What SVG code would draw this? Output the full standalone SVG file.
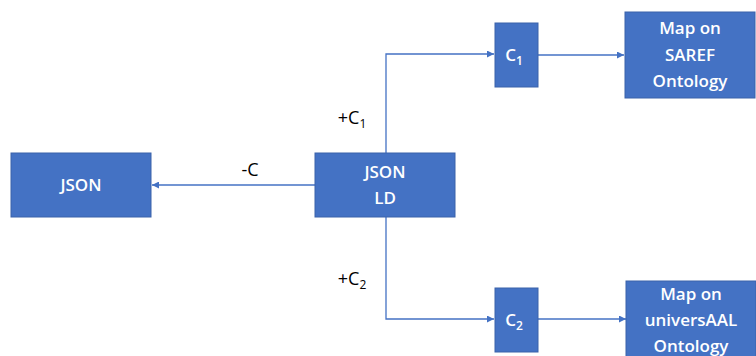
<svg xmlns="http://www.w3.org/2000/svg" width="756" height="356" viewBox="0 0 756 356">
<style>
.box{fill:#4472C4;stroke:#3A62AA;stroke-width:1}
.t{font-family:"Open Sans","Liberation Sans",sans-serif;font-size:17px;font-weight:600;fill:#fff;text-anchor:middle}
.lbl{font-family:"Open Sans","Liberation Sans",sans-serif;font-size:18px;font-weight:500;fill:#000;text-anchor:middle}
.sub{font-size:12px}
.c{fill:none;stroke:#4472C4;stroke-width:1.3}
</style>
<defs>
<marker id="ah" viewBox="0 0 10 10" refX="10" refY="5" markerWidth="7" markerHeight="7" markerUnits="userSpaceOnUse" orient="auto">
<path d="M0,0 L10,5 L0,10 z" fill="#4472C4"/>
</marker>
</defs>
<rect width="756" height="356" fill="#fff"/>
<g id="connectors">
<path class="c" d="M315,185 H152" marker-end="url(#ah)"/>
<path class="c" d="M386,153 V54 H494" marker-end="url(#ah)"/>
<path class="c" d="M538,55 H624" marker-end="url(#ah)"/>
<path class="c" d="M386,217 V319 H494" marker-end="url(#ah)"/>
<path class="c" d="M538,319 H626" marker-end="url(#ah)"/>
<text class="lbl" x="250" y="176">-C</text>
<text class="lbl" x="352" y="124">+C<tspan class="sub" dy="4">1</tspan></text>
<text class="lbl" x="352" y="285">+C<tspan class="sub" dy="4">2</tspan></text>
</g>
<g id="json">
<rect class="box" x="11" y="153" width="140" height="64"/>
<text class="t" x="81" y="191">JSON</text>
</g>
<g id="jsonld">
<rect class="box" x="315" y="153" width="140" height="64"/>
<text class="t" x="385" y="178">JSON</text>
<text class="t" x="385" y="204">LD</text>
</g>
<g id="c1">
<rect class="box" x="495" y="23" width="43" height="64"/>
<text class="t" x="514" y="61">C<tspan class="sub" dy="4">1</tspan></text>
</g>
<g id="c2">
<rect class="box" x="495" y="288" width="43" height="64"/>
<text class="t" x="514" y="326">C<tspan class="sub" dy="4">2</tspan></text>
</g>
<g id="saref">
<rect class="box" x="625" y="12" width="130" height="86"/>
<text class="t" x="690" y="34">Map on</text>
<text class="t" x="690" y="61">SAREF</text>
<text class="t" x="690" y="87">Ontology</text>
</g>
<g id="uaal">
<rect class="box" x="626" y="281" width="130" height="86"/>
<text class="t" x="691" y="300">Map on</text>
<text class="t" x="691" y="326">universAAL</text>
<text class="t" x="691" y="352">Ontology</text>
</g>
</svg>
